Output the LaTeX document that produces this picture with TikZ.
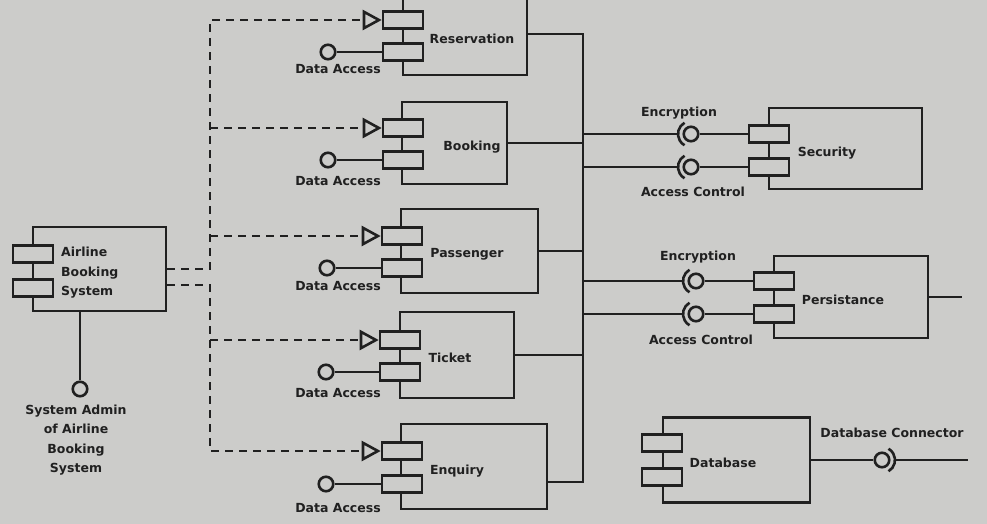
\documentclass[tikz,border=0pt]{standalone}
\usepackage{fontspec}
\setmainfont{DejaVu Sans}
\usetikzlibrary{arrows.meta}
\definecolor{paper}{RGB}{204,204,202}
\definecolor{ink}{RGB}{32,32,32}
\tikzset{
  comp/.style={draw=ink, fill=paper, line width=2.6pt, inner sep=0pt},
  port/.style={draw=ink, fill=paper, line width=2.6pt, minimum width=40pt, minimum height=17pt, inner sep=0pt},
  ball/.style={draw=ink, fill=paper, line width=2.6pt, circle, minimum size=14.5pt, inner sep=0pt},
  txt/.style={text=ink, font=\bfseries\fontsize{12.5}{19.5}\selectfont, inner sep=0pt},
  wire/.style={draw=ink, line width=2.6pt},
  dep/.style={draw=ink, line width=2.6pt, dash pattern=on 8pt off 6pt, -{Triangle[open, length=19pt, width=20pt]}},
}
\begin{document}
\begin{tikzpicture}[x=1pt, y=-1pt]
			\useasboundingbox (0,0) rectangle (987,524);
			\fill[paper] (0,0) rectangle (987,524);

			% components
			\node[comp, minimum width=133pt, minimum height=84pt] (air) at (99.5,269) {};
			\node[comp, minimum width=124pt, minimum height=82pt] (res) at (465,34) {};
			\node[comp, minimum width=105pt, minimum height=82pt] (book) at (454.5,143) {};
			\node[comp, minimum width=137pt, minimum height=84pt] (pas) at (469.5,251) {};
			\node[comp, minimum width=114pt, minimum height=86pt] (tic) at (457,355) {};
			\node[comp, minimum width=146pt, minimum height=85pt] (enq) at (474,466.5) {};
			\node[comp, minimum width=153pt, minimum height=81pt] (sec) at (845.5,148.5) {};
			\node[comp, minimum width=154pt, minimum height=82pt] (per) at (851,297) {};
			\node[comp, minimum width=147pt, minimum height=85pt] (db) at (736.5,460) {};

			% ports
			\node[port] (air1) at (33,254) {};
			\node[port] (air2) at (33,288) {};
			\node[port] (res1) at (403,20) {};
			\node[port] (res2) at (403,52) {};
			\node[port] (book1) at (403,128) {};
			\node[port] (book2) at (403,160) {};
			\node[port] (pas1) at (402,236) {};
			\node[port] (pas2) at (402,268) {};
			\node[port] (tic1) at (400,340) {};
			\node[port] (tic2) at (400,372) {};
			\node[port] (enq1) at (402,451) {};
			\node[port] (enq2) at (402,484) {};
			\node[port] (sec1) at (769,134) {};
			\node[port] (sec2) at (769,167) {};
			\node[port] (per1) at (774,281) {};
			\node[port] (per2) at (774,314) {};
			\node[port] (db1) at (662,443) {};
			\node[port] (db2) at (662,477) {};

			% names
			\node[txt, anchor=west, align=left] at (61,273) {Airline\\Booking\\System};
			\node[txt] at (472,39) {Reservation};
			\node[txt] at (472,147) {Booking};
			\node[txt] at (467,254) {Passenger};
			\node[txt] at (450,358) {Ticket};
			\node[txt] at (457,471) {Enquiry};
			\node[txt] at (827,153) {Security};
			\node[txt] at (843,300) {Persistance};
			\node[txt] at (723,463) {Database};

			% interfaces
			\node[ball] (adm) at (80,389) {};
			\node[ball] (resda) at (328,52) {};
			\node[ball] (bookda) at (328,160) {};
			\node[ball] (pasda) at (327,268) {};
			\node[ball] (ticda) at (326,372) {};
			\node[ball] (enqda) at (326,484) {};
			\node[ball] (se1) at (691,134) {};
			\node[ball] (se2) at (691,167) {};
			\node[ball] (pe1) at (696,281) {};
			\node[ball] (pe2) at (696,314) {};
			\node[ball] (dbc) at (882,460) {};

			\node[txt, align=center] at (76,440) {System Admin\\of Airline\\Booking\\System};
			\node[txt] at (338,69) {Data Access};
			\node[txt] at (338,181) {Data Access};
			\node[txt] at (338,286) {Data Access};
			\node[txt] at (338,393) {Data Access};
			\node[txt] at (338,508) {Data Access};
			\node[txt] at (679,113) {Encryption};
			\node[txt] at (693,192) {Access Control};
			\node[txt] at (698,257) {Encryption};
			\node[txt] at (701,340) {Access Control};
			\node[txt] at (892,433) {Database Connector};

			\coordinate (lbus) at (210,0);
			\coordinate (rbus) at (583,0);
			\coordinate (enqo) at (547,482);
			\coordinate (perout) at (962,297);
			\coordinate (dbout) at (968,460);

			% dependencies
			\draw[dep] (air.east) -- (air.east -| lbus) -- (lbus |- res1) -- (res1);
			\draw[dep] (lbus |- book1) -- (book1);
			\draw[dep] (lbus |- pas1) -- (pas1);
			\draw[dep] ([yshift=-16pt]air.east) -| (lbus |- enq1) -- (enq1);
			\draw[dep] (lbus |- tic1) -- (tic1);

			% data access
			\draw[wire] (adm) -- (adm |- air.south);
			\draw[wire] (resda) -- (res2);
			\draw[wire] (bookda) -- (book2);
			\draw[wire] (pasda) -- (pas2);
			\draw[wire] (ticda) -- (tic2);
			\draw[wire] (enqda) -- (enq2);

			% bus
			\draw[wire] (res.east) -| (rbus |- enqo) -- (enqo);
			\draw[wire] (book.east) -- (book.east -| rbus);
			\draw[wire] (pas.east) -- (pas.east -| rbus);
			\draw[wire] (tic.east) -- (tic.east -| rbus);

			% required / provided
			\draw[wire] (rbus |- se1) -- ([xshift=-13pt]se1.center);
			\draw[wire] (rbus |- se2) -- ([xshift=-13pt]se2.center);
			\draw[wire] (rbus |- pe1) -- ([xshift=-13pt]pe1.center);
			\draw[wire] (rbus |- pe2) -- ([xshift=-13pt]pe2.center);
			\draw[wire] ([shift={(120:13pt)}]se1.center) arc[start angle=120, end angle=240, radius=13pt];
			\draw[wire] ([shift={(120:13pt)}]se2.center) arc[start angle=120, end angle=240, radius=13pt];
			\draw[wire] ([shift={(120:13pt)}]pe1.center) arc[start angle=120, end angle=240, radius=13pt];
			\draw[wire] ([shift={(120:13pt)}]pe2.center) arc[start angle=120, end angle=240, radius=13pt];
			\draw[wire] (se1) -- (sec1);
			\draw[wire] (se2) -- (sec2);
			\draw[wire] (pe1) -- (per1);
			\draw[wire] (pe2) -- (per2);

			\draw[wire] (per) -- (perout);
			\draw[wire] (db) -- (dbc);
			\draw[wire] ([shift={(-60:13pt)}]dbc.center) arc[start angle=-60, end angle=60, radius=13pt];
			\draw[wire] ([xshift=13pt]dbc.center) -- (dbout);
		\end{tikzpicture}
\end{document}
